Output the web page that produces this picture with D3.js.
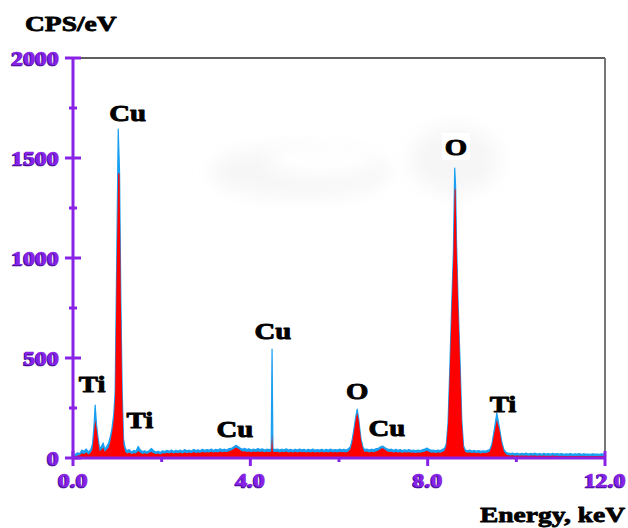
<!DOCTYPE html>
<html>
<head>
<meta charset="utf-8">
<script src="https://cdn.jsdelivr.net/npm/d3@7/dist/d3.min.js"></script>
<style>
  html, body { margin: 0; padding: 0; background: #fff; }
  svg { display: block; }
  text { font-family: "Liberation Serif", "Times New Roman", serif; font-weight: bold; }
</style>
</head>
<body>
<svg id="chart" width="628" height="528"></svg>
<script>
// EDS spectrum: energy channels (keV) with measured counts and processed counts (CPS/eV)
const energyKeV = [
  0.00,0.05,0.10,0.15,0.20,0.25,0.30,0.35,0.40,0.44,
  0.47,0.50,0.53,0.56,0.60,0.64,0.68,0.72,0.76,0.80,
  0.84,0.88,0.92,0.95,0.98,1.02,1.05,1.08,1.11,1.14,
  1.18,1.22,1.27,1.32,1.37,1.42,1.47,1.52,1.57,1.62,
  1.67,1.72,1.77,1.82,1.87,1.92,1.97,2.02,2.07,2.12,
  2.17,2.22,2.27,2.32,2.37,2.42,2.47,2.52,2.57,2.62,
  2.67,2.72,2.77,2.82,2.87,2.92,2.97,3.02,3.07,3.12,
  3.17,3.22,3.27,3.32,3.37,3.42,3.47,3.52,3.57,3.62,
  3.67,3.72,3.77,3.82,3.87,3.92,3.97,4.02,4.07,4.12,
  4.17,4.22,4.27,4.32,4.37,4.42,4.47,4.49,4.51,4.56,
  4.61,4.66,4.71,4.76,4.81,4.86,4.91,4.96,5.01,5.06,
  5.11,5.16,5.21,5.26,5.31,5.36,5.41,5.46,5.51,5.56,
  5.61,5.66,5.71,5.76,5.81,5.86,5.91,5.96,6.01,6.06,
  6.11,6.16,6.21,6.26,6.30,6.34,6.38,6.41,6.44,6.47,
  6.50,6.54,6.58,6.63,6.68,6.73,6.78,6.83,6.88,6.93,
  6.98,7.03,7.08,7.13,7.18,7.23,7.28,7.33,7.38,7.43,
  7.48,7.53,7.58,7.63,7.68,7.73,7.78,7.83,7.88,7.93,
  7.98,8.03,8.08,8.13,8.18,8.23,8.28,8.33,8.38,8.42,
  8.46,8.50,8.54,8.58,8.61,8.63,8.65,8.69,8.73,8.77,
  8.81,8.85,8.90,8.95,9.00,9.05,9.10,9.15,9.20,9.25,
  9.30,9.35,9.40,9.45,9.50,9.56,9.62,9.67,9.72,9.77,
  9.82,9.87,9.92,9.97,10.02,10.07,10.12,10.17,10.22,10.27,
  10.32,10.37,10.42,10.47,10.52,10.57,10.62,10.67,10.72,10.77,
  10.82,10.87,10.92,10.97,11.02,11.07,11.12,11.17,11.22,11.27,
  11.32,11.37,11.42,11.47,11.52,11.57,11.62,11.67,11.72,11.77,
  11.82,11.87,11.92,11.97,12.00
];
const countsMeasured = [
  8,18,26,22,40,34,45,30,42,70,
  150,265,170,110,48,58,75,42,58,72,
  105,150,220,330,890,1645,1430,790,330,95,
  48,36,42,30,38,34,58,40,32,36,
  30,38,48,36,30,34,28,36,32,38,
  34,40,33,38,35,40,34,42,36,39,
  35,43,37,41,36,44,38,42,39,45,
  38,43,40,46,41,44,40,47,48,55,
  63,58,50,44,48,42,46,40,45,41,
  47,42,46,40,44,42,44,545,46,42,
  45,40,44,41,46,40,43,39,44,40,
  45,41,43,38,44,40,45,39,42,40,
  44,38,43,40,45,39,42,40,44,41,
  43,40,46,58,95,150,210,245,205,145,
  90,55,42,45,40,44,41,46,48,55,
  60,52,46,42,44,39,43,38,42,37,
  41,38,42,37,40,36,40,37,41,44,
  50,44,38,40,36,39,37,42,48,70,
  180,456,756,1031,1450,1360,1090,756,490,190,
  60,40,36,40,35,38,34,37,33,36,
  34,38,42,70,140,225,150,82,42,28,
  24,22,25,21,24,20,23,21,25,20,
  23,21,24,20,22,19,23,20,22,19,
  23,20,22,19,22,18,21,19,22,18,
  21,19,22,18,21,19,20,18,21,19,
  20,18,21,19,18
];
const countsProcessed = [
  2,8,12,14,24,20,28,18,26,45,
  110,190,150,95,35,40,52,30,42,50,
  80,125,190,300,870,1425,1420,770,310,65,
  30,22,28,20,24,22,35,26,20,24,
  20,26,30,24,20,22,18,24,22,26,
  22,28,22,26,24,27,23,28,24,27,
  24,30,25,28,26,30,27,29,27,31,
  27,30,28,33,29,31,30,34,38,44,
  52,48,40,32,34,30,33,29,32,30,
  33,30,32,29,31,30,31,115,32,30,
  31,28,31,29,32,28,30,27,31,28,
  31,29,30,27,30,28,31,27,30,28,
  31,27,30,28,31,27,30,28,31,29,
  30,28,33,45,80,135,195,225,195,140,
  85,45,30,32,28,31,29,33,36,44,
  50,42,34,30,31,27,30,27,29,26,
  29,27,29,26,28,25,28,26,29,31,
  36,31,26,28,25,27,26,30,36,60,
  170,440,740,1010,1350,1340,1080,750,480,180,
  50,30,26,28,25,27,24,26,23,26,
  24,27,32,60,120,190,140,72,32,18,
  14,12,14,11,13,11,12,11,13,10,
  12,11,13,10,12,10,12,10,11,10,
  12,10,11,9,11,9,10,9,11,9,
  10,9,11,9,10,9,10,9,10,9,
  10,9,10,9,9
];

// Axis ticks
const xMajorTicks = [0, 4, 8, 12];
const xMinorTicks = [2, 6, 10];
const xTickLabels = ["0.0", "4.0", "8.0", "12.0"];
const yMajorTicks = [0, 500, 1000, 1500, 2000];
const yMinorTicks = [250, 750, 1250, 1750];

// Element line annotations: label, energy (keV) and height (CPS/eV) of the label baseline
const peakNames   = ["Cu", "Ti", "Ti", "Cu", "Cu", "O", "Cu", "O", "Ti"];
const peakLabelE  = [1.23, 0.43, 1.51, 4.51, 3.65, 6.41, 7.08, 8.64, 9.70];
const peakLabelY  = [1685, 330, 150, 595, 105, 295, 110, 1515, 230];

const svg = d3.select("#chart");
const purple = "#8a22e6";
const purpleDark = "#3c0a8e";
const stretch = 1.25;

const x = d3.scaleLinear().domain([0, 12]).range([73, 605]);
const y = d3.scaleLinear().domain([0, 2000]).range([458, 58]);

// faint background haze
const defs = svg.append("defs");
defs.append("filter").attr("id", "haze").attr("x", "-40%").attr("y", "-80%").attr("width", "180%").attr("height", "260%")
  .append("feGaussianBlur").attr("stdDeviation", 9);
const haze = svg.append("g").attr("filter", "url(#haze)").attr("fill", "#efefef").attr("opacity", 0.55);
haze.append("ellipse").attr("cx", 300).attr("cy", 172).attr("rx", 90).attr("ry", 26);
haze.append("ellipse").attr("cx", 455).attr("cy", 160).attr("rx", 45).attr("ry", 34);
const hazeHoles = svg.append("g").attr("filter", "url(#haze)").attr("fill", "#fff");
hazeHoles.append("ellipse").attr("cx", 322).attr("cy", 160).attr("rx", 55).attr("ry", 16);

// spectrum
const pts = energyKeV.map((e, i) => ({ e, m: countsMeasured[i], p: countsProcessed[i] }));

const areaMeasured = d3.area().x(d => x(d.e)).y0(y(0)).y1(d => y(d.m));
const areaProcessed = d3.area().x(d => x(d.e)).y0(y(0)).y1(d => y(d.p));
const lineMeasured = d3.line().x(d => x(d.e)).y(d => y(d.m));

svg.append("path").datum(pts).attr("d", areaMeasured).attr("fill", "#1a9ff0");
svg.append("path").datum(pts).attr("d", lineMeasured).attr("fill", "none")
  .attr("stroke", "#1a9ff0").attr("stroke-width", 1.2).attr("stroke-linejoin", "round");
svg.append("path").datum(pts).attr("d", areaProcessed).attr("fill", "#ff0000");

// frame: top and right borders
svg.append("line").attr("x1", x(0)).attr("x2", x(12)).attr("y1", y(2000)).attr("y2", y(2000))
  .attr("stroke", "#2a2a2a").attr("stroke-width", 1.6);
svg.append("line").attr("x1", x(12)).attr("x2", x(12)).attr("y1", y(2000)).attr("y2", y(0))
  .attr("stroke", "#777").attr("stroke-width", 2);

// axes lines
const axes = svg.append("g").attr("stroke", purple).attr("stroke-width", 3);
axes.append("line").attr("x1", x(0)).attr("x2", x(0)).attr("y1", y(2000)).attr("y2", y(0));
axes.append("line").attr("x1", x(0)).attr("x2", x(12)).attr("y1", y(0)).attr("y2", y(0));

// y ticks
axes.selectAll(".ymaj").data(yMajorTicks).join("line")
  .attr("x1", x(0) - 8).attr("x2", x(0) + 8).attr("y1", d => y(d)).attr("y2", d => y(d));
axes.selectAll(".ymin").data(yMinorTicks).join("line")
  .attr("x1", x(0) - 4).attr("x2", x(0) + 4).attr("y1", d => y(d)).attr("y2", d => y(d));
// x ticks
axes.selectAll(".xmaj").data(xMajorTicks).join("line")
  .attr("x1", d => x(d)).attr("x2", d => x(d))
  .attr("y1", d => (d === 0 || d === 12) ? y(0) - 7 : y(0)).attr("y2", y(0) + 8);
axes.selectAll(".xmin").data(xMinorTicks).join("line")
  .attr("x1", d => x(d)).attr("x2", d => x(d)).attr("y1", y(0)).attr("y2", y(0) + 4);

// stretched heavy serif text
function stretchedText(g, str, px, py, size, anchor, fill, weight) {
  return g.append("text")
    .attr("transform", `translate(${px},${py}) scale(${stretch},1)`)
    .attr("text-anchor", anchor)
    .attr("font-size", size)
    .attr("fill", fill)
    .attr("stroke", fill)
    .attr("stroke-width", weight)
    .attr("stroke-linejoin", "round")
    .text(str);
}
function tickText(str, px, py, anchor) {
  stretchedText(svg, str, px - 1, py + 1, 19, anchor, purpleDark, 0.7);
  stretchedText(svg, str, px, py, 19, anchor, purple, 0.5);
}

yMajorTicks.forEach(v => tickText(String(v), 59, y(v) + 7, "end"));
xMajorTicks.forEach((v, i) => tickText(xTickLabels[i], x(v), y(0) + 29, "middle"));

// axis titles
stretchedText(svg, "CPS/eV", 25, 31, 22, "start", "#000", 0.8);
stretchedText(svg, "Energy, keV", 625, 522, 22, "end", "#000", 0.8);

// white backing behind the main O label
svg.append("rect")
  .attr("x", x(peakLabelE[7]) - 14).attr("y", y(peakLabelY[7]) - 22)
  .attr("width", 28).attr("height", 27).attr("fill", "#fff");

// peak labels
peakNames.forEach((name, i) => {
  stretchedText(svg, name, x(peakLabelE[i]), y(peakLabelY[i]), 23, "middle", "#000", 0.9);
});

if (energyKeV.length !== countsMeasured.length || energyKeV.length !== countsProcessed.length) {
  console.error("spectrum arrays differ in length");
}
</script>
</body>
</html>
